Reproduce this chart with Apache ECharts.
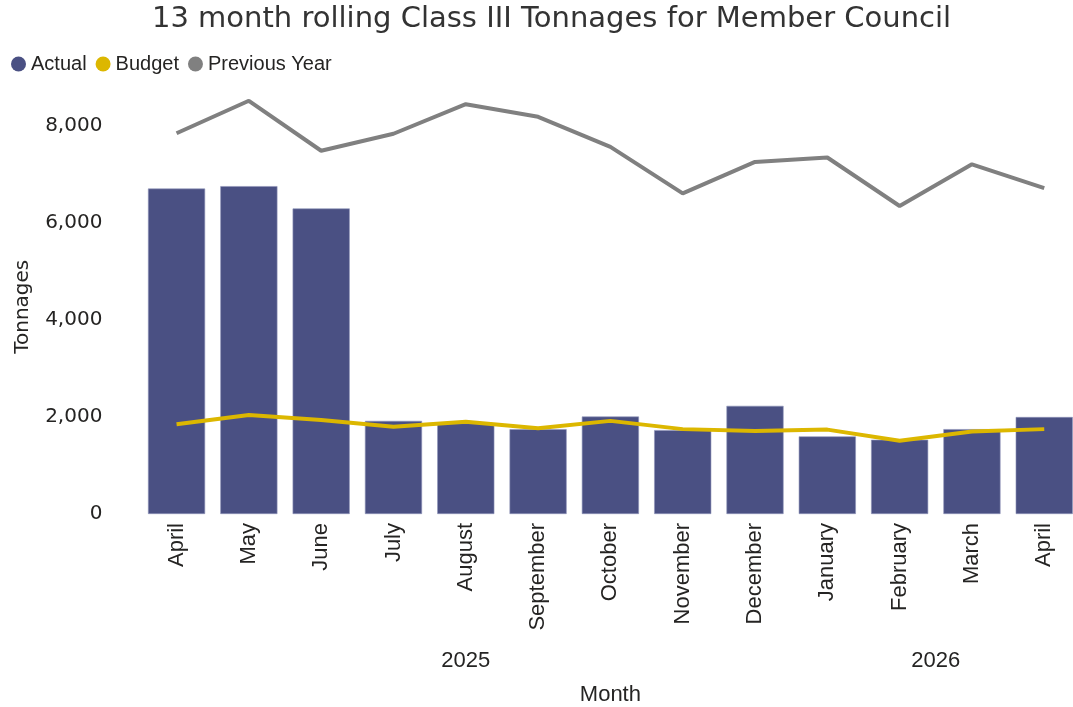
<!DOCTYPE html>
<html>
<head>
<meta charset="utf-8">
<title>13 month rolling Class III Tonnages for Member Council</title>
<script src="https://cdn.jsdelivr.net/npm/echarts@6/dist/echarts.min.js"></script>
<style>
  html, body { margin: 0; padding: 0; background: #ffffff; }
  #chart { width: 1073px; height: 707px; }
</style>
</head>
<body>
<div id="chart"></div>
<script>
// Month categories (April 2025 to April 2026)
const months = ['April', 'May', 'June', 'July', 'August', 'September', 'October',
  'November', 'December', 'January', 'February', 'March', 'April'];

// Tonnages per month
const actual = [6710, 6760, 6300, 1920, 1870, 1750, 2010, 1730, 2230, 1600, 1530, 1750, 2000];
const budget = [1850, 2040, 1940, 1800, 1900, 1770, 1920, 1750, 1710, 1740, 1510, 1700, 1750];
const previousYear = [7850, 8520, 7490, 7840, 8450, 8190, 7570, 6610, 7260, 7350, 6350, 7210, 6720];

// Year groups: first and last month index (exclusive end) of each year
const yearNames = ['2025', '2026'];
const yearStart = [0, 9];
const yearEnd = [9, 13];

// Y axis tick spacing
const yTickStep = 2000;

const yearAt = {};
yearNames.forEach((y, i) => { yearAt[(yearStart[i] + yearEnd[i]) / 2] = y; });

const labelFont = 'Liberation Sans, Arial, sans-serif';
const axisFont = '"DejaVu Sans", Verdana, sans-serif';
const textDark = '#252423';

const chart = echarts.init(document.getElementById('chart'), null, { renderer: 'canvas' });

chart.setOption({
  animation: false,
  backgroundColor: '#ffffff',
  title: {
    text: '13 month rolling Class III Tonnages for Member Council',
    left: 147,
    top: 0,
    textStyle: {
      fontFamily: axisFont,
      fontSize: 29,
      fontWeight: 'normal',
      color: '#333333'
    }
  },
  legend: {
    left: 11,
    top: 54,
    padding: 0,
    icon: 'circle',
    itemWidth: 15,
    itemHeight: 15,
    itemGap: 9,
    itemStyle: { borderWidth: 0 },
    textStyle: { fontFamily: labelFont, fontSize: 20, color: textDark },
    data: ['Actual', 'Budget', 'Previous Year']
  },
  grid: {
    left: 140.4,
    top: 77.5,
    width: 940,
    height: 436.5,
    containLabel: false,
    outerBoundsMode: 'none'
  },
  xAxis: [
    {
      type: 'category',
      data: months,
      axisLine: { show: false },
      axisTick: { show: false },
      axisLabel: {
        rotate: 90,
        interval: 0,
        margin: 9,
        fontFamily: labelFont,
        fontSize: 22,
        color: textDark
      }
    },
    {
      // Year captions beneath the month labels
      type: 'value',
      position: 'bottom',
      min: 0,
      max: months.length,
      interval: 0.5,
      offset: 128,
      axisLine: { show: false },
      axisTick: { show: false },
      splitLine: { show: false },
      axisLabel: {
        margin: 8,
        fontFamily: labelFont,
        fontSize: 22,
        color: textDark,
        formatter: v => yearAt[v] || ''
      },
      name: 'Month',
      nameLocation: 'middle',
      nameGap: 42,
      nameTextStyle: { fontFamily: labelFont, fontSize: 22, color: textDark }
    }
  ],
  yAxis: {
    type: 'value',
    min: 0,
    max: 9000,
    interval: yTickStep,
    axisLine: { show: false },
    axisTick: { show: false },
    splitLine: { show: false },
    axisLabel: {
      showMaxLabel: false,
      margin: 38,
      fontFamily: axisFont,
      fontSize: 20,
      color: textDark,
      formatter: v => v.toLocaleString('en-US')
    },
    name: 'Tonnages',
    nameLocation: 'middle',
    nameGap: 108,
    nameTextStyle: {
      fontFamily: axisFont,
      fontSize: 20,
      color: textDark,
      padding: [0, 22, 0, 0]
    }
  },
  series: [
    {
      name: 'Actual',
      type: 'bar',
      data: actual,
      barCategoryGap: '21%',
      itemStyle: { color: '#4a5083', borderColor: '#8f93b8', borderWidth: 0.6 }
    },
    {
      name: 'Budget',
      type: 'line',
      data: budget,
      symbol: 'none',
      lineStyle: { color: '#dcb700', width: 4 },
      itemStyle: { color: '#dcb700' }
    },
    {
      name: 'Previous Year',
      type: 'line',
      data: previousYear,
      symbol: 'none',
      lineStyle: { color: '#808080', width: 4 },
      itemStyle: { color: '#808080' }
    }
  ]
});
</script>
</body>
</html>
